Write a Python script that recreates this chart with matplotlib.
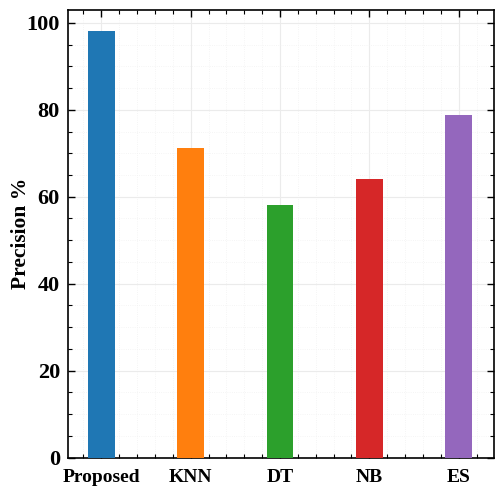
import matplotlib
matplotlib.use("Agg")
import matplotlib.pyplot as plt
from matplotlib.ticker import MultipleLocator

# данные
methods = ["Proposed", "KNN", "DT", "NB", "ES"]
precision = [98.2, 71.3, 58.2, 64.1, 78.9]
colors = ["#1f77b4", "#ff7f0e", "#2ca02c", "#d62728", "#9467bd"]

plt.rcParams["font.family"] = ["Liberation Serif", "DejaVu Serif"]
plt.rcParams["font.weight"] = "bold"

fig, ax = plt.subplots(figsize=(4.95, 4.91), dpi=100)
fig.subplots_adjust(left=0.138, right=0.997, top=0.98, bottom=0.068)

x = list(range(len(methods)))
ax.bar(x, precision, width=0.3, color=colors, zorder=3)

ax.set_xlim(-0.37, 4.39)
ax.set_ylim(0, 103)
ax.set_xticks(x)
ax.set_xticklabels(methods, fontsize=14, fontweight="bold")
ax.yaxis.set_major_locator(MultipleLocator(20))
ax.yaxis.set_minor_locator(MultipleLocator(5))
ax.xaxis.set_minor_locator(MultipleLocator(0.2))
for lab in ax.get_yticklabels():
    lab.set_fontsize(16)
    lab.set_fontweight("bold")

ax.set_ylabel("Precision %", fontsize=15.5, fontweight="bold")
ax.yaxis.set_label_coords(-0.088, 0.5)
ax.tick_params(which="both", direction="in", top=True, right=True)
ax.tick_params(which="major", length=5, width=1)
ax.tick_params(which="minor", length=3, width=0.8)
ax.tick_params(axis="x", which="major", pad=8)
ax.tick_params(axis="y", which="major", pad=6)
ax.grid(which="major", color="#ebebeb", linewidth=0.8, zorder=0)
ax.grid(which="minor", color="#f2f2f2", linewidth=0.6, linestyle=":", zorder=0)
for s in ax.spines.values():
    s.set_linewidth(1.2)

plt.savefig("out.png", dpi=100)
